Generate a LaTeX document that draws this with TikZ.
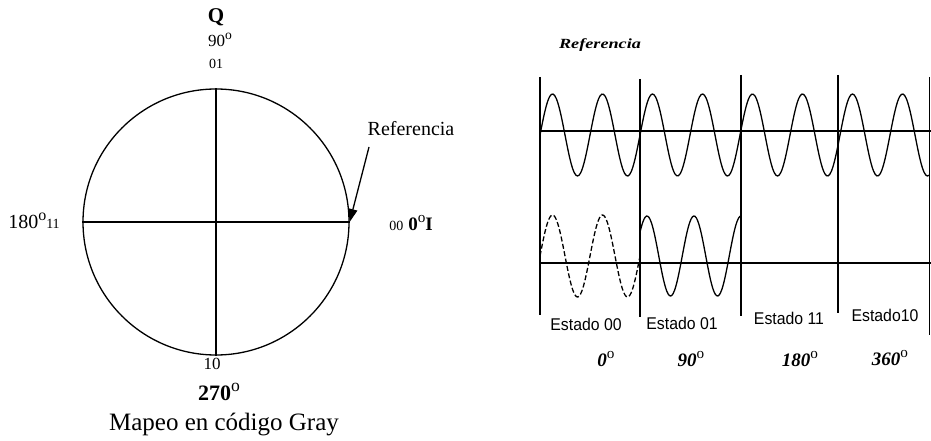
\documentclass[tikz,border=0pt]{standalone}
\usepackage{fontspec}
\setmainfont{Liberation Serif}
\newfontfamily\arialf{Liberation Sans}
\usetikzlibrary{arrows.meta}
\newcommand{\fsz}[1]{\fontsize{#1}{#1}\selectfont}
\newcommand{\dg}{\raisebox{0.42em}{\scalebox{0.8}{\upshape\mdseries o}}}
\tikzset{
  lbl/.style={inner sep=0pt, anchor=center},
  axisline/.style={line width=1.3pt},
  sepline/.style={line width=2.4pt},
  baseline/.style={line width=2pt},
  wave/.style={line width=1.3pt, smooth},
  dwave/.style={line width=1.3pt, smooth, dash pattern=on 5pt off 2.5pt},
  estado/.style={inner sep=0pt, font=\arialf\fsz{17}},
  ang/.style={inner sep=0pt, font=\bfseries\itshape\fsz{19}}
}
\begin{document}
\begin{tikzpicture}[x=1pt,y=-1pt]
\useasboundingbox (0,0) rectangle (931,441);
% ---- left: constellation circle
\node[circle, draw, line width=1.3pt, minimum size=266pt, inner sep=0pt] (C) at (216,222) {};
\draw[axisline] (C.north) -- (C.south);
\draw[axisline] (C.west) -- (C.east);
\node[lbl, font=\bfseries\fsz{21}] (Q) at (216,17) {Q};
\node[lbl, font=\fsz{17}] (n90) at (220,40) {90\dg};
\node[lbl, font=\fsz{14}] (c01) at (216,64) {01};
\node[lbl, font=\fsz{20}] (ref) at (411,129) {Referencia};
\coordinate (refstart) at (369,147);
\draw[line width=1.3pt, -{Triangle[length=13pt,width=9pt]}] (refstart) -- (C.east);
\node[lbl] (zero) at (411,223) {{\fsz{14}00}\ \ {\bfseries\fsz{19}0\dg I}};
\node[lbl, font=\fsz{20}] (n180) at (34,221) {180\dg{\fsz{14}11}};
\node[lbl, font=\fsz{17}] (c10) at (212,364) {10};
\node[lbl, font=\bfseries\fsz{22}] (n270) at (219,392) {270\dg};
\node[lbl, font=\fsz{25}] (title) at (224,425) {Mapeo en código Gray};
% ---- right: waveforms
\node[lbl, font=\bfseries\itshape\fsz{14}] (ref2) at (600,45) {\scalebox{1.3}[1]{Referencia}};
\coordinate (v1t) at (540,77);  \coordinate (v1b) at (540,315);
\coordinate (v2t) at (640,79);  \coordinate (v2b) at (640,317);
\coordinate (v3t) at (741,75);  \coordinate (v3b) at (741,316);
\coordinate (v4t) at (838,75);  \coordinate (v4b) at (838,313);
\coordinate (v5t) at (929,77);  \coordinate (v5b) at (929,335);
\draw[sepline] (v1t) -- (v1b);
\draw[sepline] (v2t) -- (v2b);
\draw[sepline] (v3t) -- (v3b);
\draw[sepline] (v4t) -- (v4b);
\draw[line width=0.8pt] (v5t) -- (v5b);
\coordinate (h1a) at (540,131); \coordinate (h1b) at (931,131);
\coordinate (h2a) at (540,263); \coordinate (h2b) at (931,263);
\draw[baseline] (h1a) -- (h1b);
\draw[baseline] (h2a) -- (h2b);
\draw[wave] plot[domain=540:929, samples=240] (\x, {135 - 41*sin(7.2*(\x-540))});
\draw[dwave] plot[domain=540:640, samples=80] (\x, {256 - 41*sin(7.2*(\x-540))});
\draw[wave] plot[domain=640:741, samples=80] (\x, {256 - 40*cos(7.6596*(\x-647))});
% labels
\node[estado] (e00) at (586,324) {\scalebox{0.93}[1]{Estado 00}};
\node[estado] (e01) at (682,323) {\scalebox{0.93}[1]{Estado 01}};
\node[estado] (e11) at (789,318) {\scalebox{0.93}[1]{Estado 11}};
\node[estado] (e10) at (885,315) {\scalebox{0.93}[1]{Estado10}};
\node[ang] (a0) at (606,359) {0\dg};
\node[ang] (a90) at (691,359) {90\dg};
\node[ang] (a180) at (800,359) {180\dg};
\node[ang] (a360) at (890,358) {360\dg};
\end{tikzpicture}
\end{document}
